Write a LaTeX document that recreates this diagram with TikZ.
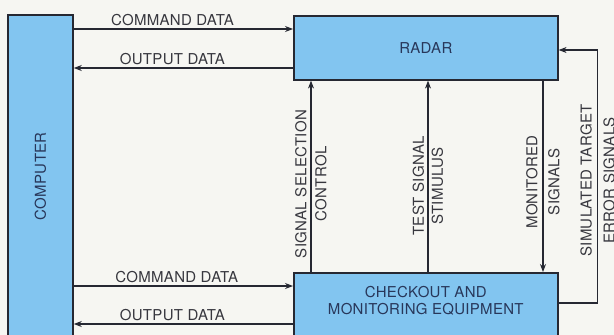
\documentclass[tikz,border=0pt]{standalone}
\usepackage{fontspec}
\setmainfont[LetterSpace=2]{TeX Gyre Heros}
\usetikzlibrary{arrows.meta, positioning, calc}
\definecolor{boxblue}{RGB}{130,197,240}
\definecolor{myink}{RGB}{38,40,50}
\definecolor{boxtext}{RGB}{40,55,90}
\definecolor{labtext}{RGB}{55,55,62}
\definecolor{paper}{RGB}{246,246,242}
\tikzset{
  unit/.style={rectangle, draw=myink, fill=boxblue, line width=1.6pt,
    font=\fontsize{15}{17.5}\selectfont, text=boxtext, align=center, inner sep=0pt},
  lbl/.style={font=\fontsize{15}{20}\selectfont, text=labtext, align=center, inner sep=3pt},
  vlbl/.style={lbl, rotate=90},
  arrow/.style={-{Stealth[length=8pt, width=6pt]}, line width=1.1pt, color=myink}
}

\begin{document}
\begin{tikzpicture}[x=1pt, y=-1pt]
  \useasboundingbox[fill=paper] (0,0) rectangle (614,335);
  \clip (0,0) rectangle (614,335);

  % Units
  \node[unit, minimum width=65pt, minimum height=340pt] (comp) at (40.5,185) {};
  \node[vlbl, text=boxtext] (comptxt) at ($(comp.north)+(0,162)$) {COMPUTER};
  \node[unit, minimum width=264pt, minimum height=64pt, anchor=north west] (rdr) at (293,15) {RADAR};
  \node[unit, minimum width=264pt, minimum height=80pt, anchor=north west] (chk) at (293,272) {};
  \node[lbl, text=boxtext, font=\fontsize{15}{17.5}\selectfont] (chktxt) at ($(chk.north)+(0,29)$) {CHECKOUT AND\\MONITORING EQUIPMENT};

  % Computer <-> radar
  \coordinate (rin) at ($(rdr.north west)+(0,14)$);
  \coordinate (rout) at ($(rdr.north west)+(0,53)$);
  \draw[arrow] (comp.east |- rin) -- node[lbl, above, pos=0.45] (cmdtop) {COMMAND DATA} (rin);
  \draw[arrow] (rout) -- node[lbl, above, pos=0.55] (outtop) {OUTPUT DATA} (comp.east |- rout);

  % Computer <-> checkout
  \coordinate (cin) at ($(chk.north west)+(0,14)$);
  \coordinate (cout) at ($(chk.north west)+(0,52)$);
  \draw[arrow] (comp.east |- cin) -- node[lbl, above, pos=0.47] (cmdbot) {COMMAND DATA} (cin);
  \draw[arrow] (cout) -- node[lbl, above, pos=0.55] (outbot) {OUTPUT DATA} (comp.east |- cout);

  % Checkout <-> radar
  \draw[arrow] ($(chk.north west)+(18,0)$) -- node[vlbl, pos=0.46] (selctl) {SIGNAL SELECTION\\CONTROL} ($(rdr.south west)+(18,0)$);
  \draw[arrow] ($(chk.north west)+(135,0)$) -- node[vlbl, pos=0.45, font=\fontsize{15}{19}\selectfont] (stim) {TEST SIGNAL\\STIMULUS} ($(rdr.south west)+(135,0)$);
  \draw[arrow] ($(rdr.south west)+(250,0)$) -- node[vlbl, pos=0.53, font=\fontsize{15}{22}\selectfont] (mon) {MONITORED\\SIGNALS} ($(chk.north west)+(250,0)$);
  \draw[arrow] ($(chk.north east)+(0,31)$) -- ++(39,0) |- node[vlbl, pos=0.25, xshift=-4pt, inner sep=0pt, font=\fontsize{15}{23}\selectfont] (simerr) {SIMULATED TARGET\\ERROR SIGNALS} ($(rdr.north east)+(0,35)$);
\end{tikzpicture}
\end{document}
